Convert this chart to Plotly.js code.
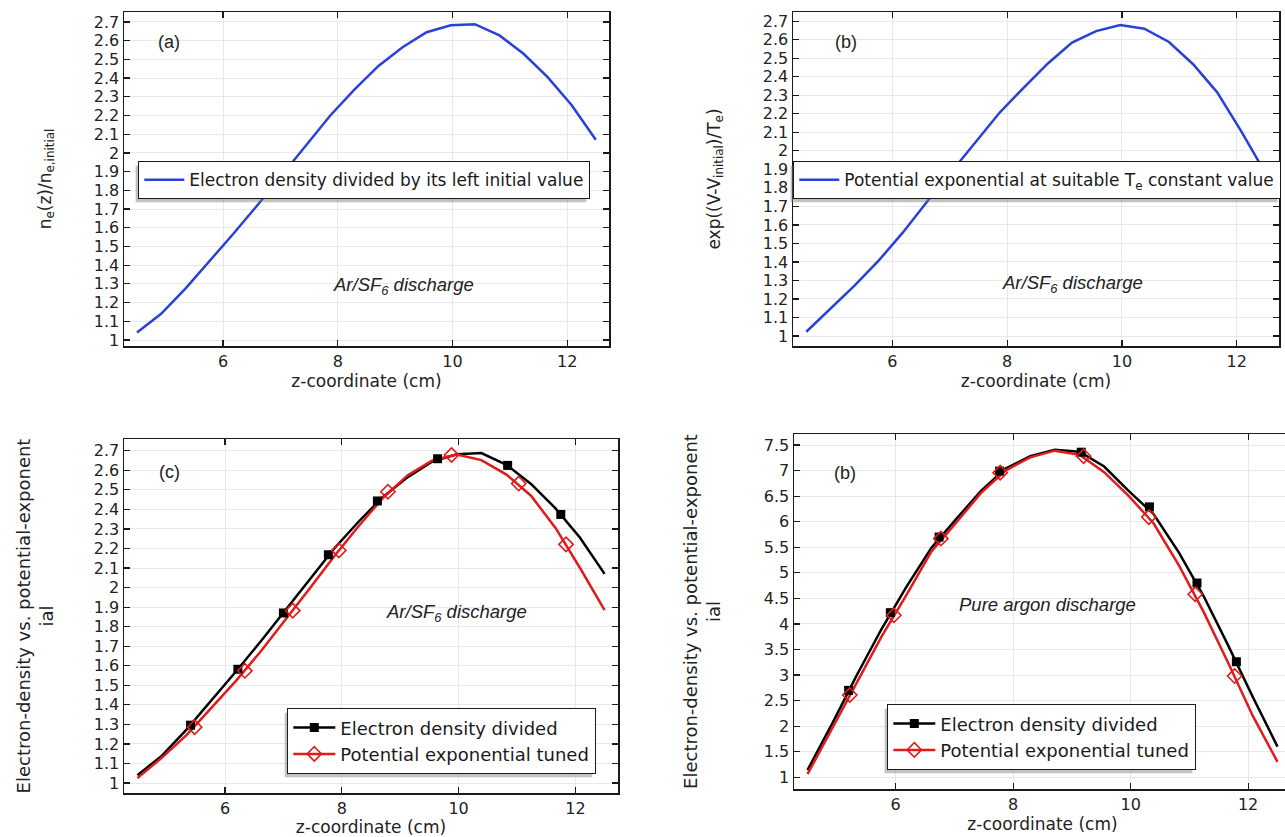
<!DOCTYPE html>
<html><head><meta charset="utf-8">
<script src="https://cdn.plot.ly/plotly-3.0.1.min.js"></script>
<style>html,body{margin:0;padding:0;overflow:hidden;background:#fff;width:1285px;height:837px}#chart{width:1300px;height:837px}</style>
</head><body><div id="chart"></div>
<script>
// ---------- data ----------
const zGrid = [4.5,4.92,5.34,5.76,6.18,6.61,7.03,7.45,7.87,8.29,8.71,9.13,9.55,9.97,10.39,10.82,11.24,11.66,12.08,12.5];
// Ar/SF6: electron density / left initial value (panels a and c)
const densityArSF6 = [1.04,1.14,1.273,1.42,1.568,1.724,1.882,2.045,2.2,2.338,2.465,2.565,2.645,2.682,2.688,2.628,2.53,2.405,2.255,2.07];
// Ar/SF6: potential exponential at constant Te (panel b)
const potentialConstTe = [1.023,1.145,1.272,1.407,1.558,1.728,1.889,2.048,2.207,2.342,2.472,2.585,2.647,2.68,2.66,2.588,2.468,2.316,2.105,1.88];
// Ar/SF6: potential exponential tuned (panel c)
const potentialTuned = [1.025,1.13,1.245,1.38,1.52,1.673,1.833,1.995,2.16,2.315,2.46,2.575,2.65,2.68,2.652,2.578,2.47,2.305,2.10,1.885];
// Pure argon (panel d)
const densityAr = [1.14,2.05,3.0,3.9,4.72,5.49,6.05,6.6,7.04,7.28,7.41,7.37,7.08,6.6,6.15,5.4,4.55,3.58,2.57,1.6];
const potentialAr = [1.06,1.95,2.86,3.75,4.56,5.42,5.98,6.56,7.0,7.26,7.39,7.31,6.97,6.5,5.97,5.15,4.24,3.24,2.2,1.3];
// marker positions
const cDensMarkZ = [5.41,6.22,7.0,7.77,8.61,9.64,10.84,11.75];
const cDensMarkV = [1.296,1.582,1.87,2.168,2.443,2.659,2.625,2.374];
const cPotMarkZ = [5.48,6.34,7.16,7.95,8.79,9.88,11.03,11.84];
const cPotMarkV = [1.286,1.574,1.882,2.19,2.49,2.678,2.532,2.221];
const dDensMarkZ = [5.20,5.91,6.74,7.77,9.16,10.32,11.13,11.80];
const dDensMarkV = [2.70,4.22,5.70,6.99,7.36,6.29,4.80,3.26];
const dPotMarkZ = [5.22,5.97,6.77,7.78,9.20,10.31,11.10,11.77];
const dPotMarkV = [2.61,4.17,5.67,6.96,7.28,6.09,4.58,2.98];

const legendA = 'Electron density divided by its left initial value';
const legendB = 'Potential exponential at suitable T<sub>e</sub> constant value';
const legendDens = 'Electron density divided';
const legendPot = 'Potential exponential tuned';
const xTitle = 'z-coordinate (cm)';
const yTitleA = 'n<sub>e</sub>(z)/n<sub>e,initial</sub>';
const yTitleB = 'exp((V-V<sub>initial</sub>)/T<sub>e</sub>)';
const yTitleCD = 'Electron-density vs. potential-exponent<br>ial';

// ---------- layout helpers ----------
const W = 1300, H = 837;
const px = v => v / W;
const py = v => 1 - v / H;
const xd = (a, b) => [px(a), px(b)];
const yd = (top, bot) => [py(bot), py(top)];

const BLUE = '#2b40d6', BLACK = '#000000', RED = '#e01b1b';
const tickFont = {family: 'DejaVu Sans', size: 16, color: '#222'};
const titleFont = {family: 'DejaVu Sans', size: 17, color: '#222'};
const titleFontCD = {family: 'DejaVu Sans', size: 18, color: '#222'};
const legFont = {family: 'DejaVu Sans', size: 17, color: '#1a1a1a'};

function ax(extra) {
  return Object.assign({
    showline: true, mirror: 'ticks', linecolor: '#1a1a1a', linewidth: 1.5,
    ticks: 'inside', ticklen: 6, tickwidth: 1.2, tickcolor: '#1a1a1a',
    showgrid: true, gridcolor: '#e8e8e8', gridwidth: 1, zeroline: false,
    tickfont: tickFont, fixedrange: true
  }, extra);
}

const diamond = {symbol: 'diamond-open', size: 11, color: RED, line: {width: 1.6, color: RED}};
const square = {symbol: 'square', size: 9, color: BLACK};

const data = [
  {x: zGrid, y: densityArSF6, xaxis: 'x', yaxis: 'y', mode: 'lines', name: legendA,
   line: {color: BLUE, width: 2.5}, legend: 'legend'},
  {x: zGrid, y: potentialConstTe, xaxis: 'x2', yaxis: 'y2', mode: 'lines', name: legendB,
   line: {color: BLUE, width: 2.5}, legend: 'legend2'},
  // panel c
  {x: zGrid, y: densityArSF6, xaxis: 'x3', yaxis: 'y3', mode: 'lines', showlegend: false,
   line: {color: BLACK, width: 2.5}},
  {x: zGrid, y: potentialTuned, xaxis: 'x3', yaxis: 'y3', mode: 'lines', showlegend: false,
   line: {color: RED, width: 2.5}},
  {x: cDensMarkZ, y: cDensMarkV, xaxis: 'x3', yaxis: 'y3', mode: 'markers', showlegend: false, marker: square},
  {x: cPotMarkZ, y: cPotMarkV, xaxis: 'x3', yaxis: 'y3', mode: 'markers', showlegend: false, marker: diamond},
  {x: [null], y: [null], xaxis: 'x3', yaxis: 'y3', mode: 'lines+markers', name: legendDens, legend: 'legend3',
   line: {color: BLACK, width: 2.5}, marker: square},
  {x: [null], y: [null], xaxis: 'x3', yaxis: 'y3', mode: 'lines+markers', name: legendPot, legend: 'legend3',
   line: {color: RED, width: 2.5}, marker: diamond},
  // panel d
  {x: zGrid, y: densityAr, xaxis: 'x4', yaxis: 'y4', mode: 'lines', showlegend: false,
   line: {color: BLACK, width: 2.5}},
  {x: zGrid, y: potentialAr, xaxis: 'x4', yaxis: 'y4', mode: 'lines', showlegend: false,
   line: {color: RED, width: 2.5}},
  {x: dDensMarkZ, y: dDensMarkV, xaxis: 'x4', yaxis: 'y4', mode: 'markers', showlegend: false, marker: square},
  {x: dPotMarkZ, y: dPotMarkV, xaxis: 'x4', yaxis: 'y4', mode: 'markers', showlegend: false, marker: diamond},
  {x: [null], y: [null], xaxis: 'x4', yaxis: 'y4', mode: 'lines+markers', name: legendDens, legend: 'legend4',
   line: {color: BLACK, width: 2.5}, marker: square},
  {x: [null], y: [null], xaxis: 'x4', yaxis: 'y4', mode: 'lines+markers', name: legendPot, legend: 'legend4',
   line: {color: RED, width: 2.5}, marker: diamond}
];

const xt = {text: xTitle, font: titleFont, standoff: 0};
function legendAt(x, y, size, iw) {
  return {x: px(x), y: py(y), xanchor: 'left', yanchor: 'top', bgcolor: '#ffffff',
          bordercolor: '#1a1a1a', borderwidth: 1.3, font: Object.assign({}, legFont, {size: size}),
          tracegroupgap: 0, itemwidth: iw};
}
function note(x, y, text, size) {
  return {xref: 'paper', yref: 'paper', x: px(x), y: py(y), text: text, showarrow: false,
          xanchor: 'center', yanchor: 'middle',
          font: {family: 'Liberation Sans', size: size, color: '#222'}};
}

const layout = {
  width: W, height: H, margin: {l: 0, r: 0, t: 0, b: 0},
  paper_bgcolor: '#fff', plot_bgcolor: '#fff',
  xaxis: ax({domain: xd(124, 609), range: [4.273, 12.73], dtick: 2, tick0: 0, anchor: 'y', title: xt}),
  yaxis: ax({domain: yd(12, 346), range: [0.968, 2.753], dtick: 0.1, tick0: 0, anchor: 'x',
             title: {text: yTitleA, font: titleFont, standoff: 38}}),
  xaxis2: ax({domain: xd(793, 1279), range: [4.268, 12.737], dtick: 2, tick0: 0, anchor: 'y2', title: xt}),
  yaxis2: ax({domain: yd(12, 346), range: [0.946, 2.75], dtick: 0.1, tick0: 0, anchor: 'x2',
              title: {text: yTitleB, font: titleFont, standoff: 38}}),
  xaxis3: ax({domain: xd(124, 618), range: [4.27, 12.73], dtick: 2, tick0: 0, anchor: 'y3', title: xt}),
  yaxis3: ax({domain: yd(439, 793), range: [0.949, 2.76], dtick: 0.1, tick0: 0, anchor: 'x3',
              title: {text: yTitleCD, font: titleFontCD, standoff: 35}}),
  xaxis4: ax({domain: xd(794, 1291), range: [4.27, 12.73], dtick: 2, tick0: 0, anchor: 'y4', title: xt}),
  yaxis4: ax({domain: yd(434, 789), range: [0.77, 7.716], dtick: 0.5, tick0: 0, anchor: 'x4',
              title: {text: yTitleCD, font: titleFontCD, standoff: 38}}),
  legend: legendAt(138, 161, 17, 40),
  legend2: legendAt(793, 161, 17, 40),
  legend3: legendAt(287, 708, 18, 42),
  legend4: legendAt(887, 704, 18, 42),
  annotations: [
    note(169, 42, '(a)', 18),
    note(846, 42, '(b)', 18),
    note(169, 472, '(c)', 18),
    note(845, 473, '(b)', 18),
    note(403, 286, '<i>Ar/SF<sub>6</sub> discharge</i>', 18.5),
    note(1072, 284, '<i>Ar/SF<sub>6</sub> discharge</i>', 18.5),
    note(456, 613, '<i>Ar/SF<sub>6</sub> discharge</i>', 18.5),
    note(1047, 604, '<i>Pure argon discharge</i>', 18.5)
  ]
};

const gd = document.getElementById('chart');
Plotly.newPlot(gd, data, layout, {staticPlot: true, displayModeBar: false}).then(function () {
  const g = gd.getBoundingClientRect();
  const shapes = [];
  ['legend', 'legend2', 'legend3', 'legend4'].forEach(function (id) {
    const bg = gd.querySelector('g.' + id + ' rect.bg');
    if (!bg) return;
    const r = bg.getBoundingClientRect();
    const l = r.left - g.left - 3, t = r.top - g.top + 4;
    shapes.push({type: 'rect', xref: 'paper', yref: 'paper', layer: 'above',
      x0: px(l), x1: px(l + r.width), y0: py(t + r.height), y1: py(t),
      fillcolor: 'rgba(120,120,120,0.45)', line: {width: 0}});
  });
  return Plotly.relayout(gd, {shapes: shapes});
});
</script>
</body></html>
